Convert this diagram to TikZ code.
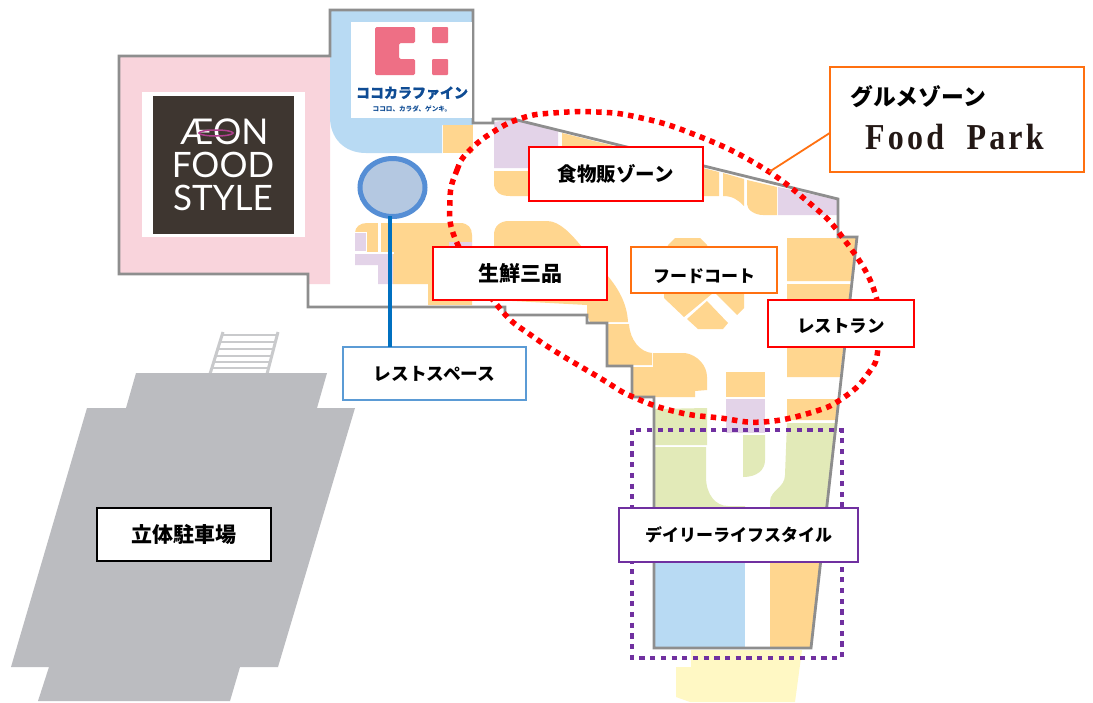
\documentclass[tikz,border=0pt]{standalone}
\usepackage{fontspec}
\usepackage{graphicx}
\newfontfamily\jp{Noto Sans CJK JP}
\newfontfamily\jpheavy{Noto Sans CJK JP}[BoldFeatures={FakeBold=1}]
\newfontfamily\logofont{Lato}
\newfontfamily\fp{Liberation Serif}[LetterSpace=10]
\usetikzlibrary{calc,shapes.geometric}
\definecolor{cpink}{HTML}{F9D4DC}
\definecolor{cblue}{HTML}{B8DAF3}
\definecolor{corange}{HTML}{FFD68F}
\definecolor{cviolet}{HTML}{E3D3E8}
\definecolor{cgreen}{HTML}{E2EAB8}
\definecolor{cyellow}{HTML}{FFF8C4}
\definecolor{cgrey}{HTML}{BBBCC0}
\definecolor{cstair}{HTML}{C9CACC}
\definecolor{cwall}{HTML}{8E8E8E}
\definecolor{cdark}{HTML}{3E3630}
\definecolor{clogopink}{HTML}{EE6F85}
\definecolor{clogoblue}{HTML}{0F4C94}
\definecolor{cpurple}{HTML}{7030A0}
\definecolor{corangeline}{HTML}{FF7010}
\definecolor{cboxblue}{HTML}{5B9BD5}
\definecolor{cring}{HTML}{558ED5}
\definecolor{cringfill}{HTML}{B4C8E1}
\definecolor{cstem}{HTML}{0070C0}
\definecolor{cswirl}{HTML}{B0408F}
\definecolor{cfptext}{HTML}{231815}
\tikzset{
  o/.style={fill=corange},
  v/.style={fill=cviolet},
  g/.style={fill=cgreen},
  labelbox/.style={draw,line width=1.8pt,fill=white,inner sep=0pt,outer sep=0pt,font=\jp\bfseries,text=black},
}
\begin{document}
\begin{tikzpicture}[x=1pt,y=-1pt]
\useasboundingbox (0,0) rectangle (1093,702);
\fill[white] (0,0) rectangle (1093,702);
% stairs
\foreach \yy in {335,342,349,356,362,368}{
  \draw[cstair,line width=2.2pt] ({223-(\yy-332)*13/41},\yy)--({278-(\yy-332)*11/41},\yy);
}
\draw[cstair,line width=3pt] (223,332)--(210,374);
\draw[cstair,line width=3pt] (278,332)--(267,374);
% parking
\fill[cgrey] (136,373)--(327,373)--(317,408)--(355,408)--(278,667)--(240,667)--(230,701)--(38,701)--(49,667)--(11,667)--(87,408)--(126,408)--cycle;
% anchor store
\fill[cpink] (119,56)--(330,56)--(330,284)--(308,284)--(308,274)--(119,274)--cycle;
% supermarket blue
\fill[cblue] (330,10)--(473,10)--(473,125)--(442,125)--(442,153)--(366,153) .. controls (344,153) and (330,138) .. (330,117)--cycle;
% left cluster
\fill[o] (442.5,125)--(473,125)--(473,153)--(442.5,153)--cycle;
\fill[o] (355,233) .. controls (355,227) and (360,223) .. (367,223)--(460,223) .. controls (468,223) and (472,228) .. (472,235)--(472,305)--(428,305)--(428,284)--(393,284)--(393,253)--(355,253)--cycle;
\fill[white] (377.5,223)--(381,223)--(381,252)--(377.5,252)--cycle;
\fill[white] (355,252)--(394,252)--(394,254)--(355,254)--cycle;
\fill[white] (355,231.5)--(367,231.5)--(367,252)--(355,252)--cycle;
\fill[v] (355,233)--(366,233)--(366,251)--(355,251)--cycle;
\fill[v] (355,254)--(393,254)--(393,284)--(378,284)--(378,265)--(355,265)--cycle;
\fill[v] (449,242)--(472,242)--(472,252)--(449,252)--cycle;
% top row
\fill[v] (494,122)--(513,119)--(558,131)--(558,168)--(494,168)--cycle;
\fill[o] (494,171)--(535,171)--(535,196)--(510,196) .. controls (500,196) and (494,192) .. (494,183)--cycle;
\fill[o] (562,133)--(719,172)--(719,196)--(562,196)--cycle;
\fill[o] (723,173)--(744,179)--(744,206) .. controls (738,200) and (733,196) .. (723,196)--cycle;
\fill[o] (747,180)--(777,187)--(777,215)--(763,215) .. controls (755,215) and (747,210) .. (747,204)--cycle;
\fill[v] (778,187)--(838,200)--(838,215)--(778,215)--cycle;
% fresh block
\fill[o] (494,300)--(494,235) .. controls (494,226) and (500,221) .. (509,221)--(547,221) .. controls (560,221) and (572,235) .. (582,247)--(607,275) .. controls (618,288) and (627,303) .. (628,322)--(590,322)--(587,315)--(587,305)--cycle;
\fill[o] (608,324)--(629,324) .. controls (630,340) and (640,352) .. (652,353)--(652,365)--(608,365)--cycle;
\fill[o] (653,353)--(685,353) .. controls (698,355) and (707,366) .. (707,377)--(707,390)--(695,391)--(695,397)--(633,397)--(633,367)--(653,367)--cycle;
% food court
\fill[o] (663,293)--(668,245)--(675,238)--(700,238)--(707,245)--(730,293)--cycle;
\fill[o] (664,298)--(684,317)--(713,293)--(664,293)--cycle;
\fill[o] (687,319)--(707,301)--(728,323)--(723,329)--(698,329)--cycle;
\fill[o] (715,293)--(737,315)--(744,308)--(744,293)--cycle;
% centre
\fill[o] (726,372)--(765,372)--(765,397)--(726,397)--cycle;
\fill[v] (726,398.5)--(765,398.5)--(765,433)--(726,433)--cycle;
% right
\fill[o] (787,238)--(856,238)--(851,281)--(787,281)--cycle;
\fill[o] (787,284)--(850.5,284)--(840,377)--(787,377)--cycle;
\fill[o] (787,399)--(838,399)--(836,420)--(787,420)--cycle;
% green
\fill[g] (655,409)--(707,408)--(707,445)--(655,445)--cycle;
\fill[g] (655,447)--(706,447)--(706,477) .. controls (706,495) and (716,506) .. (728,506)--(745,506)--(745,520)--(655,520)--cycle;
\fill[g] (743,435)--(765,435)--(765,460) .. controls (765,470) and (757,477) .. (743,477)--cycle;
\fill[g] (787,423)--(836,423)--(826,520)--(770,520)--(770,502) .. controls (770,490) and (785,488) .. (785,475)--cycle;
% bottom
\fill[cblue] (655,550)--(745,550)--(745,647)--(655,647)--cycle;
\fill[o] (770,550)--(821,550)--(811,647)--(770,647)--cycle;
\fill[cyellow] (691,650)--(802,650)--(795,702)--(690,702)--(676,697)--(676,667)--(691,667)--cycle;
% walls
\draw[cwall,line width=2.8pt,line join=miter] (119,56)--(330,56)--(330,10)--(473,10)--(473,123)--(493,123)--(493,119)--(513,119)--(838,199)--(838,237)--(857,237)--(811,648)--(654,648)--(654,397)--(632,397)--(632,366)--(607,366)--(607,323)--(587,323)--(587,315)--(505,315)--(505,307)--(308,307)--(308,274)--(119,274)--cycle;
% logos
\fill[white] (142,92) rectangle (305,237);
\fill[cdark] (153,96) rectangle (294,234);
\node[text=white,font=\logofont\fontsize{35}{35}\selectfont,inner sep=0pt] (lgfood) at (223,165) {FOOD};
\node[text=white,font=\logofont\fontsize{35}{35}\selectfont,inner sep=0pt] (lgstyle) at (223,198) {STYLE};
\node[text=white,font=\logofont\fontsize{35.5}{36}\selectfont,inner sep=0pt] (lgaeon) at (224.5,132) {ÆON};
\draw[cswirl,line width=1.5pt] (216,133) ellipse [x radius=17,y radius=3];
\fill[white] (351,22) rectangle (472,118);
\fill[clogopink,rounded corners=1.5pt] (375,27)--(415,27)--(415,43)--(399,43)--(399,59)--(415,59)--(415,75)--(375,75)--cycle;
\fill[clogopink,rounded corners=1pt] (432,27) rectangle (448,43);
\fill[clogopink,rounded corners=1pt] (432,59) rectangle (448,75);
\node[text=clogoblue,font=\jpheavy\bfseries\fontsize{14}{15}\selectfont,inner sep=0pt] (lgkoko) at (412,93) {ココカラファイン};
\node[text=clogoblue,font=\jp\bfseries\fontsize{6.6}{7}\selectfont,inner sep=0pt] (lgsub) at (412,109) {ココロ、カラダ、ゲンキ。};
% rest space
\node[draw=cring,fill=cringfill,line width=5pt,ellipse,minimum width=65pt,minimum height=58pt,inner sep=0pt,outer sep=0pt] (rest) at (392.5,187.5) {};
% dotted zones
\draw[red,line width=5.5pt,dash pattern=on 5.5pt off 5.2pt] plot[smooth cycle,tension=.75] coordinates {(450,200)(457,170)(468,152)(493,132)(522,118)(553,113)(597,112)(637,117)(688,132)(753,162)(807,201)(843,238)(875,293)(878,348)(867,375)(843,398)(813,412)(763,422)(720,418)(677,412)(633,397)(600,378)(535,338)(497,305)(457,243)};
\draw[cpurple,line width=4.6pt,dash pattern=on 5.2pt off 5.5pt] (632,430) rectangle (842,658);
% labels
\node[labelbox,draw=red,minimum width=174pt,minimum height=54pt,font=\jp\bfseries\fontsize{19.5}{20}\selectfont] (shoku) at (616,174) {食物販ゾーン};
\node[labelbox,draw=red,minimum width=174pt,minimum height=53pt,font=\jp\bfseries\fontsize{21}{22}\selectfont] (sengyo) at (520,273.5) {生鮮三品};
\node[labelbox,draw=corangeline,minimum width=146pt,minimum height=46pt,font=\jp\bfseries\fontsize{17}{18}\selectfont] (food) at (704,270) {\raisebox{-12pt}[0pt][0pt]{フードコート}};
\node[labelbox,draw=red,minimum width=146pt,minimum height=47pt,font=\jp\bfseries\fontsize{17.5}{18}\selectfont] (rest2) at (841,323.5) {\raisebox{-9pt}[0pt][0pt]{レストラン}};
\node[labelbox,draw=cboxblue,line width=1.3pt,minimum width=183pt,minimum height=53pt,font=\jp\bfseries\fontsize{17.7}{18}\selectfont] (restlbl) at (434.5,373.5) {レストスペース};
\node[labelbox,draw=cpurple,minimum width=239pt,minimum height=54pt,font=\jp\bfseries\fontsize{17}{18}\selectfont] (daily) at (738.5,535) {デイリーライフスタイル};
\node[labelbox,draw=black,minimum width=174pt,minimum height=53pt,font=\jp\bfseries\fontsize{21}{22}\selectfont] (park) at (184,534.5) {立体駐車場};
\node[labelbox,draw=corangeline,minimum width=254pt,minimum height=105pt] (fpbox) at (957,119.5) {};
\node[inner sep=0pt,font=\jp\bfseries\fontsize{22.8}{23}\selectfont,anchor=west] (gurume) at (850,97) {グルメゾーン};
\node[inner sep=0pt,text=cfptext,font=\fp\bfseries\fontsize{32}{33}\selectfont,anchor=west] (fptext) at (865,137) {\scalebox{1}[1.14]{Food\ \ Park}};
% connectors
\coordinate (fpend) at (769,172);
\draw[corangeline,line width=1.8pt] (fpbox.186) -- (fpend);
\draw[cstem,line width=3.5pt] (rest.265) -- (rest.265|-restlbl.north);
\end{tikzpicture}
\end{document}
